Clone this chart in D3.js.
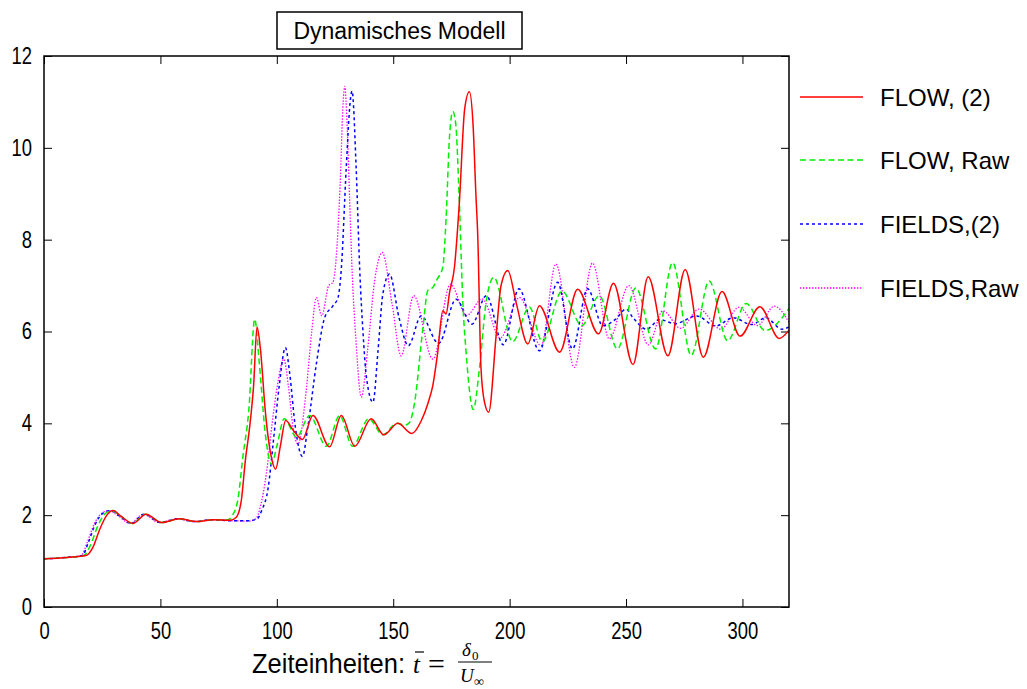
<!DOCTYPE html>
<html>
<head>
<meta charset="utf-8">
<script src="https://cdn.jsdelivr.net/npm/d3@7"></script>
<style>
  body { margin: 0; background: #fff; }
  svg { display: block; }
</style>
</head>
<body>
<svg id="chart" width="1027" height="689"></svg>
<script>
// Time samples [t, value] for each run
const flow2 = [
  [0,1.05],[10,1.08],[18,1.12],[21,1.3],[24,1.7],[27,2.0],[29.7,2.1],[33,1.98],[38.3,1.82],[43.8,2.02],
  [50.5,1.84],[58.3,1.92],[65.5,1.86],[72.6,1.9],[80,1.89],[82.5,1.95],[84.7,2.3],[86.5,3.2],[88.4,3.95],
  [90,4.8],[91.5,6.1],[93,5.6],[95,4.3],[97.5,3.3],[99.5,3.0],[101.5,3.5],[103.8,4.06],[107.2,3.84],
  [111,3.65],[115.5,4.17],[122.7,3.49],[127.7,4.17],[133.5,3.5],[140.5,4.1],[146,3.75],[152,4.0],
  [158,3.78],[162,4.05],[165,4.45],[167,4.82],[169,5.5],[171.3,6.45],[172.7,6.38],[174.2,6.85],
  [176.3,7.4],[178.4,8.8],[180.7,10.85],[182.7,11.22],[184.3,10.5],[185.5,9.0],[186.3,8.1],[187.7,5.2],
  [189.2,4.46],[191,4.24],[194.2,5.91],[196.3,7.0],[199.2,7.33],[202.8,6.63],[207.8,5.73],[212.8,6.56],
  [221.5,5.55],[229.2,6.92],[238.2,5.95],[244.6,7.05],[253,5.28],[259.5,7.19],[268,5.47],[275.4,7.35],
  [283.2,5.44],[291.2,6.87],[299,5.9],[307.5,6.54],[315.8,5.85],[320,6.03]
];
const flowRaw = [
  [0,1.05],[10,1.08],[17,1.12],[20,1.35],[23,1.75],[26,2.02],[29.2,2.1],[33,1.98],[38,1.82],[43.5,2.02],
  [50.5,1.84],[58,1.92],[65.5,1.86],[72.5,1.9],[79,1.9],[81,2.0],[83.3,2.35],[85.5,3.3],[88,4.3],
  [90.5,6.27],[92.5,5.3],[95,3.8],[97.7,3.11],[100,3.5],[103.2,4.1],[108.5,3.7],[114.1,4.17],[121.3,3.5],
  [127,4.17],[132.5,3.5],[139.5,4.1],[145.5,3.75],[151.5,4.0],[155,3.96],[157,4.02],[159.2,4.46],
  [162.7,6.05],[164.9,6.9],[167,6.96],[169,7.15],[171.3,7.4],[172.7,8.45],[174.2,10.26],[175.6,10.79],
  [176.8,10.55],[178.4,8.82],[179.9,6.64],[181.3,5.55],[184.4,4.3],[187,5.18],[189.9,6.64],[193.2,7.18],
  [201.3,5.78],[208.5,6.53],[214,5.78],[222.5,6.88],[231,6.13],[238.5,6.78],[246.3,5.62],[254.2,6.95],
  [262.7,5.62],[270,7.5],[278,5.48],[285.7,7.1],[293.6,5.8],[301.6,6.61],[309.7,6.02],[320,6.5]
];
const fields2 = [
  [0,1.05],[10,1.08],[16.5,1.12],[19,1.4],[22,1.8],[25.5,2.05],[28.5,2.1],[32.5,1.98],[37.5,1.82],[43,2.02],
  [50,1.84],[57.5,1.92],[65,1.86],[72,1.9],[80,1.88],[88,1.88],[91.5,1.92],[93.5,2.1],[96.3,2.6],
  [98.5,3.6],[101,4.8],[103.7,5.65],[105.5,5.1],[108,3.9],[111,3.28],[113.4,3.95],[117,5.3],[120.6,6.31],
  [124.1,6.56],[126.3,6.74],[127.7,7.36],[129.8,9.54],[131.5,11.0],[132.3,11.24],[134.1,9.54],[135.6,7.36],
  [137,6.0],[138.5,5.0],[141.3,4.46],[143.5,5.6],[145.5,6.8],[148.4,7.25],[152.5,6.3],[156.5,5.69],
  [162,6.34],[169.5,5.74],[177,6.7],[183.8,6.16],[190,6.78],[197.3,5.71],[204,6.93],[212.8,5.58],
  [220.6,7.07],[227,5.62],[233.5,6.93],[240,6.13],[245.6,6.27],[250,6.49],[253,6.3],[258.8,6.05],
  [264.5,6.26],[271,6.17],[280.3,6.34],[288.5,6.12],[296,6.3],[304,6.15],[310,6.3],[317,6.05],[320,6.1]
];
const fieldsRaw = [
  [0,1.05],[10,1.08],[16,1.12],[18.5,1.4],[21.5,1.8],[25,2.05],[28,2.1],[32,1.98],[37,1.82],[42.5,2.02],
  [49.5,1.84],[57,1.92],[64.5,1.86],[71.5,1.9],[80,1.88],[88,1.87],[91,1.92],[93,2.2],[95.5,2.9],
  [98,4.0],[100.5,4.9],[103,5.4],[105,4.8],[107,3.9],[109.1,3.55],[112.7,4.75],[115,6.0],[117,6.74],
  [119.3,6.34],[122.3,7.0],[124.1,7.07],[125.5,7.6],[127.2,9.2],[128.5,11.0],[129.2,11.34],[130.2,10.5],
  [131.2,9.0],[132.2,7.5],[134,5.8],[136.3,4.57],[139,5.6],[142,7.1],[145.3,7.72],[149.5,6.6],
  [153.4,5.47],[158.8,6.78],[167,5.4],[174.6,7.03],[181.5,6.35],[188.2,6.71],[196,5.86],[204.2,6.74],
  [213.5,5.69],[219.9,7.47],[227.8,5.22],[235.6,7.49],[242.8,5.84],[251.2,7.0],[259.6,5.71],[265.8,6.45],
  [273.5,6.07],[281.4,6.49],[290.7,6.05],[298.5,6.53],[306.4,6.13],[313.7,6.55],[320,6.2]
];

const seriesNames = ["FLOW, (2)", "FLOW, Raw", "FIELDS,(2)", "FIELDS,Raw"];
const xTicks = [0, 50, 100, 150, 200, 250, 300];
const yTicks = [0, 2, 4, 6, 8, 10, 12];

const series = [
  { name: seriesNames[0], data: flow2,     color: "#ff0000", dash: null,      width: 1.5 },
  { name: seriesNames[1], data: flowRaw,   color: "#00ee00", dash: "6,3.5",   width: 1.5 },
  { name: seriesNames[2], data: fields2,   color: "#0000ff", dash: "3,3",     width: 1.5 },
  { name: seriesNames[3], data: fieldsRaw, color: "#ff00ff", dash: "1.4,1.6", width: 1.3 }
];

const svg = d3.select("#chart");
const L = 44, R = 789, T = 56, B = 607;
const x = d3.scaleLinear().domain([0, 320]).range([L, R]);
const y = d3.scaleLinear().domain([0, 12]).range([B, T]);

const textFont = "'Liberation Sans', Arial, sans-serif";

// Squeeze a text horizontally to give a condensed face
function condense(sel, factor) {
  sel.each(function () {
    const w = this.getComputedTextLength();
    d3.select(this).attr("textLength", w * factor).attr("lengthAdjust", "spacingAndGlyphs");
  });
}

// Axes with inward ticks on all four sides
function styleAxis(g) {
  g.select(".domain").remove();
  g.selectAll(".tick line").attr("stroke", "#000").attr("stroke-width", 1);
  g.selectAll(".tick text").attr("fill", "#000").attr("font-family", textFont).attr("font-size", 23);
  condense(g.selectAll(".tick text"), 0.8);
}
svg.append("g").attr("transform", `translate(0,${B})`)
  .call(d3.axisBottom(x).tickValues(xTicks).tickSizeInner(-8).tickSizeOuter(0).tickPadding(16))
  .call(styleAxis);
svg.append("g").attr("transform", `translate(0,${T})`)
  .call(d3.axisTop(x).tickValues(xTicks).tickSizeInner(-8).tickSizeOuter(0).tickFormat(""))
  .call(styleAxis);
svg.append("g").attr("transform", `translate(${L},0)`)
  .call(d3.axisLeft(y).tickValues(yTicks).tickSizeInner(-8).tickSizeOuter(0).tickPadding(12))
  .call(styleAxis);
svg.append("g").attr("transform", `translate(${R},0)`)
  .call(d3.axisRight(y).tickValues(yTicks).tickSizeInner(-8).tickSizeOuter(0).tickFormat(""))
  .call(styleAxis);

// Curves
const line = d3.line().x(d => x(d[0])).y(d => y(d[1])).curve(d3.curveMonotoneX);
svg.append("clipPath").attr("id", "plotClip")
  .append("rect").attr("x", L).attr("y", T).attr("width", R - L).attr("height", B - T);
const curves = svg.append("g").attr("clip-path", "url(#plotClip)");
series.slice().reverse().forEach(s => {
  curves.append("path")
    .attr("d", line(s.data))
    .attr("fill", "none")
    .attr("stroke", s.color)
    .attr("stroke-width", s.width)
    .attr("stroke-dasharray", s.dash);
});

// Frame
svg.append("rect").attr("x", L).attr("y", T).attr("width", R - L).attr("height", B - T)
  .attr("fill", "none").attr("stroke", "#000").attr("stroke-width", 1.5);

// Legend
const legendY = [97, 160, 224, 288];
series.forEach((s, i) => {
  svg.append("line")
    .attr("x1", 800).attr("x2", 863).attr("y1", legendY[i]).attr("y2", legendY[i])
    .attr("stroke", s.color).attr("stroke-width", s.width).attr("stroke-dasharray", s.dash);
  svg.append("text")
    .attr("x", 880).attr("y", legendY[i]).attr("dy", "0.36em")
    .attr("font-family", textFont).attr("font-size", 24).attr("fill", "#000")
    .text(s.name);
});

// Title box
svg.append("rect").attr("x", 277).attr("y", 12).attr("width", 245).attr("height", 37)
  .attr("fill", "#fff").attr("stroke", "#000").attr("stroke-width", 1.5);
svg.append("text").attr("x", 399.5).attr("y", 39).attr("text-anchor", "middle")
  .attr("font-family", textFont).attr("font-size", 23).attr("fill", "#000")
  .text("Dynamisches Modell");

// X axis caption with the formula t̄ = δ0 / U∞
const cap = svg.append("g").attr("fill", "#000");
cap.append("text").attr("x", 252).attr("y", 673)
  .attr("font-family", textFont).attr("font-size", 27)
  .attr("textLength", 153).attr("lengthAdjust", "spacingAndGlyphs")
  .text("Zeiteinheiten:");
const serif = "'Liberation Serif', 'DejaVu Serif', serif";
cap.append("text").attr("x", 413).attr("y", 673).attr("font-family", serif)
  .attr("font-style", "italic").attr("font-size", 25).text("t");
cap.append("line").attr("x1", 415).attr("x2", 424).attr("y1", 652).attr("y2", 652)
  .attr("stroke", "#000").attr("stroke-width", 1.2);
cap.append("text").attr("x", 428).attr("y", 674).attr("font-family", serif)
  .attr("font-size", 30).text("=");
cap.append("text").attr("x", 462).attr("y", 656).attr("font-family", serif)
  .attr("font-style", "italic").attr("font-size", 19).text("δ");
cap.append("text").attr("x", 472).attr("y", 660).attr("font-family", serif)
  .attr("font-size", 13).text("0");
cap.append("line").attr("x1", 458).attr("x2", 492).attr("y1", 662).attr("y2", 662)
  .attr("stroke", "#000").attr("stroke-width", 1);
cap.append("text").attr("x", 460).attr("y", 682).attr("font-family", serif)
  .attr("font-style", "italic").attr("font-size", 19).text("U");
cap.append("text").attr("x", 474).attr("y", 686).attr("font-family", serif)
  .attr("font-size", 14).text("∞");
</script>
</body>
</html>
